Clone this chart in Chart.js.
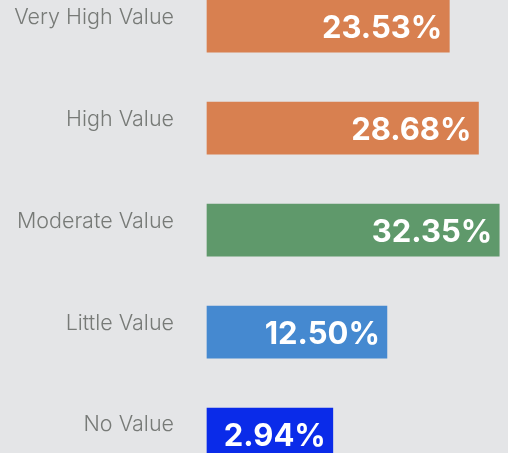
<!DOCTYPE html>
<html>
<head>
<meta charset="utf-8">
<script src="https://cdn.jsdelivr.net/npm/chart.js@4"></script>
<style>
  html, body { margin: 0; padding: 0; background: #e4e5e7; }
  #wrap { width: 508px; height: 453px; position: relative; }
</style>
</head>
<body>
<div id="wrap"><canvas id="chartValor"></canvas></div>
<script>
  // categorias y valores (porcentaje)
  var categorias = ['Very High Value', 'High Value', 'Moderate Value', 'Little Value', 'No Value'];
  var porcentajes = [23.53, 28.68, 32.35, 12.50, 2.94];
  var colores = ['#d88050', '#d88050', '#5f996b', '#4589d0', '#0a2be9'];

  // escala x (oculta)
  var xMin = -19.3;
  var xMax = 33.9;

  // dibuja el porcentaje dentro de cada barra
  var etiquetasBarras = {
    id: 'etiquetasBarras',
    afterDatasetsDraw: function (chart) {
      var ctx = chart.ctx;
      var meta = chart.getDatasetMeta(0);
      ctx.save();
      ctx.fillStyle = '#ffffff';
      ctx.font = 'bold 31px Inter';
      ctx.textAlign = 'right';
      ctx.textBaseline = 'alphabetic';
      meta.data.forEach(function (bar, i) {
        ctx.fillText(porcentajes[i].toFixed(2) + '%', bar.x - 7, bar.y + 12);
      });
      ctx.restore();
    }
  };

  var ctx = document.getElementById('chartValor');
  new Chart(ctx, {
    type: 'bar',
    data: {
      labels: categorias,
      datasets: [
        {
          data: porcentajes,
          base: xMin,
          backgroundColor: colores,
          barThickness: 52,
          clip: false,
        }
      ]
    },
    options: {
      indexAxis: 'y',
      responsive: true,
      maintainAspectRatio: false,
      animation: false,
      layout: { padding: { top: 26.2, bottom: 19, left: 0, right: 0 } },
      scales: {
        x: {
          display: false,
          min: xMin,
          max: xMax,
        },
        y: {
          offset: false,
          grid: { display: false, drawTicks: true, tickLength: 33 },
          border: { display: false },
          ticks: {
            color: '#777a77',
            padding: 0,
            labelOffset: -9,
            font: { family: 'Inter', size: 21.5, weight: 300 },
          },
          afterFit: function (scale) { scale.width = 207; }
        }
      },
      plugins: {
        legend: { display: false },
        tooltip: { enabled: false },
      }
    },
    plugins: [etiquetasBarras]
  });
</script>
</body>
</html>
